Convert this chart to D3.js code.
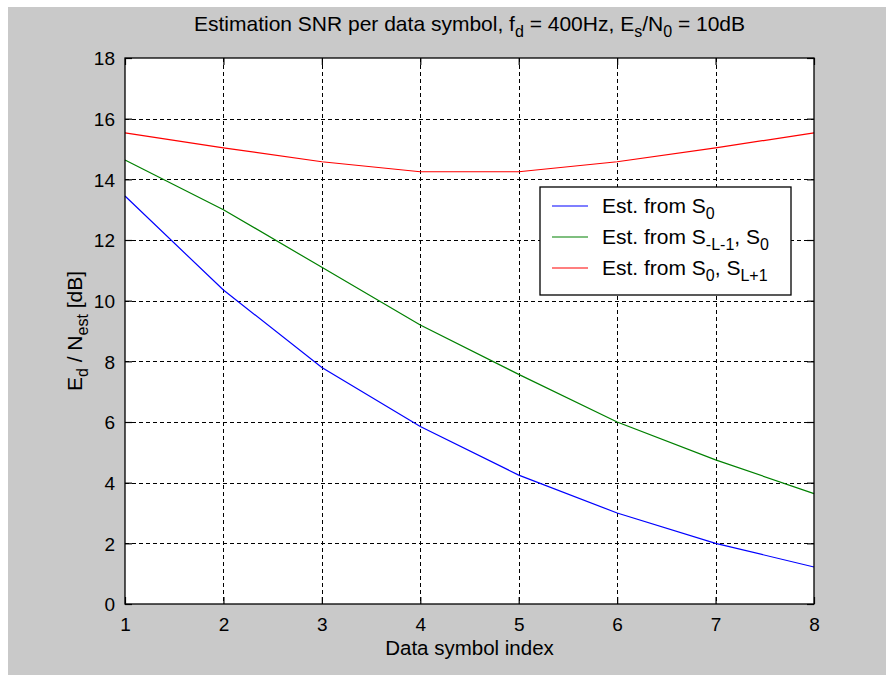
<!DOCTYPE html>
<html>
<head>
<meta charset="utf-8">
<script src="https://cdn.jsdelivr.net/npm/d3@7"></script>
<style>
  body { margin: 0; background: #fff; }
  text { font-family: "Liberation Sans", Arial, sans-serif; fill: #000; }
</style>
</head>
<body>
<svg id="chart" width="886" height="675"></svg>
<script>
// Data symbol index
const symbolIdx = [1, 2, 3, 4, 5, 6, 7, 8];
// Ed/Nest [dB] per estimator
const estS0 = [13.45, 10.35, 7.8, 5.85, 4.25, 3.0, 2.0, 1.22];
const estSL1S0 = [14.64, 13.0, 11.1, 9.2, 7.57, 6.0, 4.75, 3.64];
const estS0SL1 = [15.53, 15.04, 14.58, 14.25, 14.25, 14.58, 15.04, 15.53];

const xTicks = [1, 2, 3, 4, 5, 6, 7, 8];
const yTicks = [0, 2, 4, 6, 8, 10, 12, 14, 16, 18];

const series = [
  { name: "S0", color: "#0000ff", values: estS0 },
  { name: "SL1S0", color: "#008000", values: estSL1S0 },
  { name: "S0SL1", color: "#ff0000", values: estS0SL1 }
];

const svg = d3.select("#chart");

// grey figure background (white strip on left/top)
svg.append("rect").attr("x", 8).attr("y", 7).attr("width", 878).attr("height", 668).attr("fill", "#c9c9c9");

const pLeft = 125, pRight = 814, pTop = 58, pBottom = 604;

const x = d3.scaleLinear().domain([1, 8]).range([pLeft, pRight]);
const y = d3.scaleLinear().domain([0, 18]).range([pBottom, pTop]);

// axes background
svg.append("rect").attr("x", pLeft).attr("y", pTop).attr("width", pRight - pLeft).attr("height", pBottom - pTop).attr("fill", "#fff");

// grid lines
const grid = svg.append("g").attr("stroke", "#000").attr("stroke-width", 1).attr("stroke-dasharray", "4,3");
grid.selectAll("line.gx").data(xTicks.slice(1, -1)).enter().append("line")
  .attr("x1", d => Math.round(x(d)) + 0.5).attr("x2", d => Math.round(x(d)) + 0.5)
  .attr("y1", pTop).attr("y2", pBottom);
grid.selectAll("line.gy").data(yTicks.slice(1, -1)).enter().append("line")
  .attr("x1", pLeft).attr("x2", pRight)
  .attr("y1", d => Math.round(y(d)) + 0.5).attr("y2", d => Math.round(y(d)) + 0.5);

// curves
const line = d3.line().x((d, i) => x(symbolIdx[i])).y(d => y(d));
svg.append("g").selectAll("path").data(series).enter().append("path")
  .attr("d", d => line(d.values))
  .attr("fill", "none")
  .attr("stroke", d => d.color)
  .attr("stroke-width", 1.2);

// axes with inward ticks
const tl = 7;
const xAxis = d3.axisBottom(x).tickValues(xTicks).tickSize(-tl).tickPadding(14).tickFormat(d3.format("d"));
const yAxis = d3.axisLeft(y).tickValues(yTicks).tickSize(-tl).tickPadding(10).tickFormat(d3.format("d"));

const gx = svg.append("g").attr("transform", `translate(0,${pBottom})`).call(xAxis);
const gy = svg.append("g").attr("transform", `translate(${pLeft},0)`).call(yAxis);
svg.append("g").attr("transform", `translate(0,${pTop})`).call(d3.axisTop(x).tickValues(xTicks).tickSize(-tl).tickFormat(""));
svg.append("g").attr("transform", `translate(${pRight},0)`).call(d3.axisRight(y).tickValues(yTicks).tickSize(-tl).tickFormat(""));

svg.selectAll(".domain").remove();
svg.selectAll(".tick line").attr("stroke", "#000").attr("stroke-width", 1.2);
gx.selectAll(".tick text").attr("font-size", 19).attr("font-family", null);
gy.selectAll(".tick text").attr("font-size", 19).attr("font-family", null).attr("dy", "0.36em");

// box
svg.append("rect").attr("x", pLeft).attr("y", pTop).attr("width", pRight - pLeft).attr("height", pBottom - pTop)
  .attr("fill", "none").attr("stroke", "#000").attr("stroke-width", 1.3);

// title
const title = svg.append("text").attr("x", (pLeft + pRight) / 2).attr("y", 31).attr("text-anchor", "middle").attr("font-size", 21);
title.append("tspan").text("Estimation SNR per data symbol, f");
title.append("tspan").attr("dy", 6).attr("font-size", 16).text("d");
title.append("tspan").attr("dy", -6).text(" = 400Hz, E");
title.append("tspan").attr("dy", 6).attr("font-size", 16).text("s");
title.append("tspan").attr("dy", -6).text("/N");
title.append("tspan").attr("dy", 6).attr("font-size", 16).text("0");
title.append("tspan").attr("dy", -6).text(" = 10dB");

// x label
svg.append("text").attr("x", (pLeft + pRight) / 2).attr("y", 655).attr("text-anchor", "middle").attr("font-size", 20.5)
  .text("Data symbol index");

// y label
const yl = svg.append("text").attr("transform", `translate(82,${(pTop + pBottom) / 2}) rotate(-90)`)
  .attr("text-anchor", "middle").attr("font-size", 21);
yl.append("tspan").text("E");
yl.append("tspan").attr("dy", 6).attr("font-size", 16).text("d");
yl.append("tspan").attr("dy", -6).text(" / N");
yl.append("tspan").attr("dy", 6).attr("font-size", 16).text("est");
yl.append("tspan").attr("dy", -6).text(" [dB]");

// legend
const leg = svg.append("g");
leg.append("rect").attr("x", 540).attr("y", 187).attr("width", 251).attr("height", 108)
  .attr("fill", "#fff").attr("stroke", "#000").attr("stroke-width", 1.3);

const legendLabels = [
  [["Est. from S", 0], ["0", 1]],
  [["Est. from S", 0], ["-L-1", 1], [", S", 0], ["0", 1]],
  [["Est. from S", 0], ["0", 1], [", S", 0], ["L+1", 1]]
];
const rowY = [206, 237, 268];

series.forEach((s, i) => {
  leg.append("line").attr("x1", 552).attr("x2", 588).attr("y1", rowY[i]).attr("y2", rowY[i])
    .attr("stroke", s.color).attr("stroke-width", 1.2);
  const t = leg.append("text").attr("x", 602).attr("y", rowY[i] + 7).attr("font-size", 21);
  let sub = 0;
  legendLabels[i].forEach(([str, isSub]) => {
    const dy = isSub && !sub ? 6 : (!isSub && sub ? -6 : 0);
    t.append("tspan").attr("dy", dy).attr("font-size", isSub ? 16 : 21).text(str);
    sub = isSub;
  });
});
</script>
</body>
</html>
